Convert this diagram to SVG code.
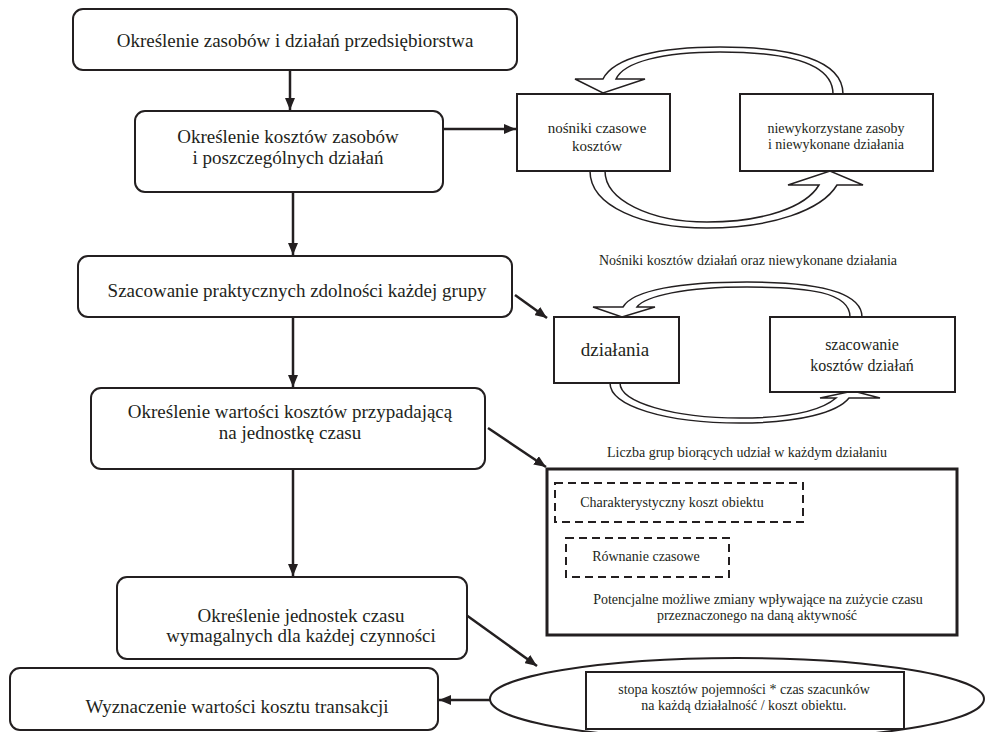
<svg xmlns="http://www.w3.org/2000/svg" width="987" height="732" viewBox="0 0 987 732">
<defs>
<marker id="ah" viewBox="0 0 12 10" refX="12" refY="5" markerWidth="12" markerHeight="10" markerUnits="userSpaceOnUse" orient="auto">
<path d="M0,0 L12,5 L0,10 z" fill="#231f20"/>
</marker>
<style>
.box{fill:#fff;stroke:#231f20;stroke-width:2}
.sq{fill:#fff;stroke:#231f20;stroke-width:2}
.thick{fill:#fff;stroke:#231f20;stroke-width:3}
.dash{fill:none;stroke:#231f20;stroke-width:2;stroke-dasharray:8 5}
.band{fill:#fff;stroke:#231f20;stroke-width:1.5;stroke-linejoin:miter}
.con{fill:none;stroke:#231f20;stroke-width:2.5}
.big{font-size:19px}
.mid{font-size:16px}
.sm{font-size:14px}
</style>
</defs>
<rect width="987" height="732" fill="#fff"/>

<g id="curved-arrows">
<path class="band" d="M833,94 C833,62 785,52 720,52 C662,52 624,62 616,79 L645,79 L603,93 L575,79 L603,79 C614,57 660,47 720,47 C792,47 843,60 843,94 Z"/>
<path class="band" d="M590,171 C590,206 642,228 707,228 C772,228 822,210 837,185 L863,185 L830,171 L788,185 L819,185 C806,207 764,222 707,222 C650,222 605,200 605,171 Z"/>
<path class="band" d="M850,317 C850,292 808,287 747,287 C685,287 645,296 637,307 L655,307 L622,317 L593,307 L623,307 C633,290 680,282 747,282 C818,282 862,292 862,317 Z"/>
<path class="band" d="M610,383 C610,406 665,423 740,423 C800,423 838,412 849,398 L880,398 L853,391 L820,398 L836,398 C822,410 795,418 740,418 C672,418 620,402 620,383 Z"/>
</g>

<g id="connectors">
<line class="con" x1="290" y1="70" x2="290" y2="110" marker-end="url(#ah)"/>
<line class="con" x1="293" y1="192" x2="293" y2="255" marker-end="url(#ah)"/>
<line class="con" x1="293" y1="317" x2="293" y2="387" marker-end="url(#ah)"/>
<line class="con" x1="293" y1="469" x2="293" y2="576" marker-end="url(#ah)"/>
<line class="con" x1="443" y1="129" x2="516" y2="129" marker-end="url(#ah)"/>
<line class="con" x1="515" y1="295" x2="547" y2="318" marker-end="url(#ah)"/>
<line class="con" x1="488" y1="428" x2="546" y2="467" marker-end="url(#ah)"/>
<line class="con" x1="462" y1="612" x2="537" y2="666" marker-end="url(#ah)"/>
<line class="con" x1="490" y1="700" x2="439" y2="700" marker-end="url(#ah)"/>
</g>

<g font-family="'Liberation Serif', Tinos, 'Times New Roman', 'DejaVu Serif', serif" fill="#231f20" text-anchor="middle">
<g id="n1">
<rect class="box" x="73" y="9" width="444" height="61" rx="10"/>
<text class="big" x="295" y="47">Określenie zasobów i działań przedsiębiorstwa</text>
</g>
<g id="n2">
<rect class="box" x="135" y="111" width="308" height="81" rx="10"/>
<text class="big" x="288" y="143">Określenie kosztów zasobów</text>
<text class="big" x="288" y="164">i poszczególnych działań</text>
</g>
<g id="n3">
<rect class="box" x="78" y="256" width="434" height="61" rx="10"/>
<text class="big" x="297" y="297">Szacowanie praktycznych zdolności każdej grupy</text>
</g>
<g id="n4">
<rect class="box" x="91" y="388" width="394" height="81" rx="10"/>
<text class="big" x="290" y="418">Określenie wartości kosztów przypadającą</text>
<text class="big" x="290" y="439">na jednostkę czasu</text>
</g>
<g id="n5">
<rect class="box" x="117" y="577" width="350" height="82" rx="10"/>
<text class="big" x="301" y="622">Określenie jednostek czasu</text>
<text class="big" x="301" y="642">wymagalnych dla każdej czynności</text>
</g>
<g id="n6">
<rect class="box" x="10" y="668" width="428" height="62" rx="10"/>
<text class="big" x="237" y="713">Wyznaczenie wartości kosztu transakcji</text>
</g>

<g id="n-nosniki">
<rect class="sq" x="517" y="94" width="153" height="77"/>
<text x="597" y="133" font-size="15">nośniki czasowe</text>
<text x="597" y="151" font-size="15">kosztów</text>
</g>
<g id="n-niewykorzystane">
<rect class="sq" x="740" y="94" width="193" height="77"/>
<text class="sm" x="836" y="133">niewykorzystane zasoby</text>
<text class="sm" x="836" y="149">i niewykonane działania</text>
</g>
<g id="label-nosniki">
<text class="sm" x="748" y="265">Nośniki kosztów działań oraz niewykonane działania</text>
</g>
<g id="n-dzialania">
<rect class="sq" x="554" y="317" width="125" height="66"/>
<text class="big" x="615" y="356">działania</text>
</g>
<g id="n-szacowanie">
<rect class="sq" x="770" y="317" width="185" height="75"/>
<text class="mid" x="862" y="350">szacowanie</text>
<text class="mid" x="862" y="371">kosztów działań</text>
</g>
<g id="label-liczba">
<text class="sm" x="747" y="457">Liczba grup biorących udział w każdym działaniu</text>
</g>
<g id="n-big">
<rect class="thick" x="547" y="469" width="410" height="166"/>
<rect class="dash" x="555" y="483" width="248" height="39"/>
<text class="sm" x="672" y="507">Charakterystyczny koszt obiektu</text>
<rect class="dash" x="566" y="538" width="163" height="39"/>
<text class="sm" x="646" y="561">Równanie czasowe</text>
<text class="sm" x="758" y="604">Potencjalne możliwe zmiany wpływające na zużycie czasu</text>
<text class="sm" x="757" y="620">przeznaczonego na daną aktywność</text>
</g>
<g id="n-ellipse">
<ellipse class="sq" cx="737" cy="699" rx="247" ry="41"/>
<rect class="sq" x="586" y="672" width="318" height="57"/>
<text class="sm" x="744" y="694">stopa kosztów pojemności * czas szacunków</text>
<text class="sm" x="744" y="710">na każdą działalność / koszt obiektu.</text>
</g>
</g>
</svg>
